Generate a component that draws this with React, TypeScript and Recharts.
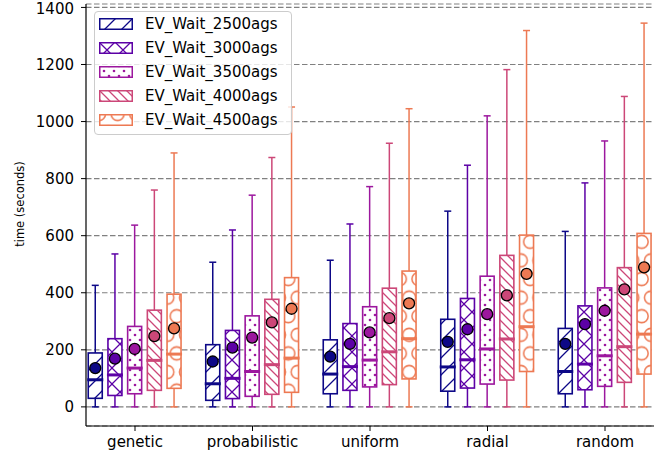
import React from "react";
import { ComposedChart, Bar, XAxis, YAxis, CartesianGrid, Legend } from "recharts";

const FONT = "DejaVu Sans, sans-serif";

const CATEGORIES = ["genetic", "probabilistic", "uniform", "radial", "random"];
const SERIES = [
  "EV_Wait_2500ags",
  "EV_Wait_3000ags",
  "EV_Wait_3500ags",
  "EV_Wait_4000ags",
  "EV_Wait_4500ags",
];
const COLORS = ["#0d0887", "#5c01a6", "#9c179e", "#cc4778", "#ed7953"];

// stats are [series][category]
const WHISKER_LOW = [
  [0, 0, 0, 0, 0],
  [0, 0, 0, 0, 0],
  [0, 0, 0, 0, 0],
  [0, 0, 0, 0, 0],
  [0, 0, 0, 0, 0],
];
const Q1 = [
  [30, 23, 46, 55, 46],
  [40, 29, 58, 66, 60],
  [46, 37, 70, 80, 72],
  [58, 44, 78, 94, 86],
  [65, 51, 98, 124, 115],
];
const MEDIAN = [
  [95, 81, 115, 140, 124],
  [112, 100, 141, 165, 150],
  [136, 124, 164, 203, 179],
  [163, 148, 193, 238, 211],
  [185, 171, 239, 281, 255],
];
const Q3 = [
  [189, 218, 235, 307, 275],
  [239, 268, 292, 380, 354],
  [282, 319, 351, 458, 417],
  [339, 377, 416, 531, 488],
  [395, 453, 476, 602, 608],
];
const WHISKER_HIGH = [
  [426, 507, 514, 686, 615],
  [536, 620, 641, 847, 785],
  [637, 742, 772, 1020, 932],
  [760, 874, 924, 1182, 1088],
  [890, 1051, 1045, 1319, 1345],
];
const MEAN = [
  [136, 159, 176, 228, 221],
  [169, 208, 221, 272, 290],
  [203, 243, 261, 325, 337],
  [248, 296, 311, 391, 412],
  [275, 344, 363, 466, 489],
];
const Y_TICKS = [0, 200, 400, 600, 800, 1000, 1200, 1400];

const data = CATEGORIES.map((name, ci) => {
  const row: Record<string, any> = { name };
  SERIES.forEach((_, si) => {
    row[`s${si}`] = [WHISKER_LOW[si][ci], WHISKER_HIGH[si][ci]];
  });
  return row;
});

function HatchDefs() {
  return (
    <defs>
      <pattern id="hatch0" patternUnits="userSpaceOnUse" width={17} height={17}>
        <path d="M0,17 L17,0 M-8.5,8.5 L8.5,-8.5 M8.5,25.5 L25.5,8.5" stroke={COLORS[0]} strokeWidth={1.3} />
      </pattern>
      <pattern id="hatch1" patternUnits="userSpaceOnUse" width={16} height={16}>
        <path d="M-2,-2 L18,18 M18,-2 L-2,18" stroke={COLORS[1]} strokeWidth={1.3} />
      </pattern>
      <pattern id="hatch2" patternUnits="userSpaceOnUse" width={10} height={10}>
        <circle cx={0} cy={0} r={1.3} fill={COLORS[2]} />
        <circle cx={10} cy={0} r={1.3} fill={COLORS[2]} />
        <circle cx={0} cy={10} r={1.3} fill={COLORS[2]} />
        <circle cx={10} cy={10} r={1.3} fill={COLORS[2]} />
        <circle cx={5} cy={5} r={1.3} fill={COLORS[2]} />
      </pattern>
      <pattern id="hatch3" patternUnits="userSpaceOnUse" width={9} height={9}>
        <path d="M0,0 L9,9 M-4.5,4.5 L4.5,13.5 M4.5,-4.5 L13.5,4.5" stroke={COLORS[3]} strokeWidth={1.3} />
      </pattern>
      <pattern id="hatch4" patternUnits="userSpaceOnUse" width={18.6} height={37.2}>
        {[
          [0, 0],
          [18.6, 0],
          [0, 37.2],
          [18.6, 37.2],
          [9.3, 18.6],
        ].map(([cx, cy], i) => (
          <circle key={i} cx={cx} cy={cy} r={6.5} fill="none" stroke={COLORS[4]} strokeWidth={1.5} />
        ))}
      </pattern>
    </defs>
  );
}

function BoxShape(props: any) {
  const { x, y, width, height, index, si } = props;
  const lo = WHISKER_LOW[si][index];
  const hi = WHISKER_HIGH[si][index];
  // y/height come from the axis scale for [lo, hi]; the scale is linear
  const py = (v: number) => y + (height * (hi - v)) / (hi - lo);
  const color = COLORS[si];
  const cx = x + width / 2;
  const yTop = py(Q3[si][index]);
  const yBot = py(Q1[si][index]);
  const yMed = py(MEDIAN[si][index]);
  return (
    <g>
      <line x1={cx} x2={cx} y1={py(hi)} y2={yTop} stroke={color} strokeWidth={1.5} />
      <line x1={cx} x2={cx} y1={yBot} y2={py(lo)} stroke={color} strokeWidth={1.5} />
      <line x1={cx - width / 4} x2={cx + width / 4} y1={py(hi)} y2={py(hi)} stroke={color} strokeWidth={1.5} />
      <line x1={cx - width / 4} x2={cx + width / 4} y1={py(lo)} y2={py(lo)} stroke={color} strokeWidth={1.5} />
      <rect x={x} y={yTop} width={width} height={yBot - yTop} fill="#fff" />
      <rect x={x} y={yTop} width={width} height={yBot - yTop} fill={`url(#hatch${si})`} stroke={color} strokeWidth={1.6} />
      <line x1={x - 1} x2={x + width + 1} y1={yMed} y2={yMed} stroke={color} strokeWidth={3} />
      <circle cx={cx} cy={py(MEAN[si][index])} r={5.5} fill={color} stroke="#000" strokeWidth={1.3} />
    </g>
  );
}

function LegendBox() {
  return (
    <div
      style={{
        border: "1px solid #cccccc",
        borderRadius: 4,
        background: "rgba(255,255,255,0.8)",
        padding: "0 0 2px",
        width: 196,
        fontFamily: FONT,
        fontSize: 15,
        color: "#000",
      }}
    >
      {SERIES.map((s, i) => (
        <div key={s} style={{ display: "flex", alignItems: "center", height: 24 }}>
          <svg width={34} height={12} style={{ marginLeft: 4, marginRight: 12 }}>
            <rect x={0.75} y={0.75} width={32.5} height={10.5} fill="#fff" />
            <rect x={0.75} y={0.75} width={32.5} height={10.5} fill={`url(#hatch${i})`} stroke={COLORS[i]} strokeWidth={1.5} />
          </svg>
          <span>{s}</span>
        </div>
      ))}
    </div>
  );
}

export default function App() {
  const tickStyle = { fontSize: 15, fill: "#000", fontFamily: FONT };
  return (
    <div style={{ position: "absolute", left: 0, top: 0, fontFamily: FONT }}>
      <ComposedChart
        width={662}
        height={459}
        data={data}
        margin={{ top: 4, right: 8, bottom: 0, left: 0 }}
        barSize={14}
        barGap={5.7}
      >
        <HatchDefs />
        <CartesianGrid vertical={false} stroke="#808080" strokeDasharray="5.5 2.5" strokeWidth={1.2} />
        <XAxis
          dataKey="name"
          type="category"
          padding={{ left: -9.75, right: -9.75 }}
          height={33}
          tick={tickStyle}
          tickSize={5}
          tickMargin={5}
          axisLine={{ stroke: "#000", strokeWidth: 1.2 }}
          tickLine={{ stroke: "#000" }}
        />
        <XAxis
          xAxisId="top"
          orientation="top"
          type="number"
          domain={[0, 1]}
          height={0}
          tick={false}
          tickLine={false}
          axisLine={{ stroke: "#000", strokeWidth: 1.2 }}
        />
        <YAxis
          type="number"
          domain={[-67, 1412]}
          ticks={Y_TICKS}
          allowDataOverflow
          width={86}
          tick={tickStyle}
          tickSize={5}
          tickMargin={7}
          axisLine={{ stroke: "#000", strokeWidth: 1.2 }}
          tickLine={{ stroke: "#000" }}
          label={{
            content: () => (
              <text
                x={20}
                y={204}
                transform="rotate(-90 20 204)"
                textAnchor="middle"
                dominantBaseline="central"
                fontSize={11.5}
                fontFamily={FONT}
                fill="#000"
              >
                time (seconds)
              </text>
            ),
          }}
        />
        <YAxis
          yAxisId="right"
          orientation="right"
          type="number"
          domain={[0, 1]}
          width={0}
          tick={false}
          tickLine={false}
          axisLine={{ stroke: "#000", strokeWidth: 1.2 }}
        />
        {SERIES.map((s, si) => (
          <Bar
            key={s}
            name={s}
            dataKey={`s${si}`}
            fill={COLORS[si]}
            isAnimationActive={false}
            shape={(p: any) => <BoxShape {...p} si={si} />}
          />
        ))}
        <Legend
          layout="vertical"
          align="center"
          verticalAlign="middle"
          wrapperStyle={{ left: 94, top: 11, width: "auto", height: "auto" }}
          content={() => <LegendBox />}
        />
      </ComposedChart>
    </div>
  );
}
